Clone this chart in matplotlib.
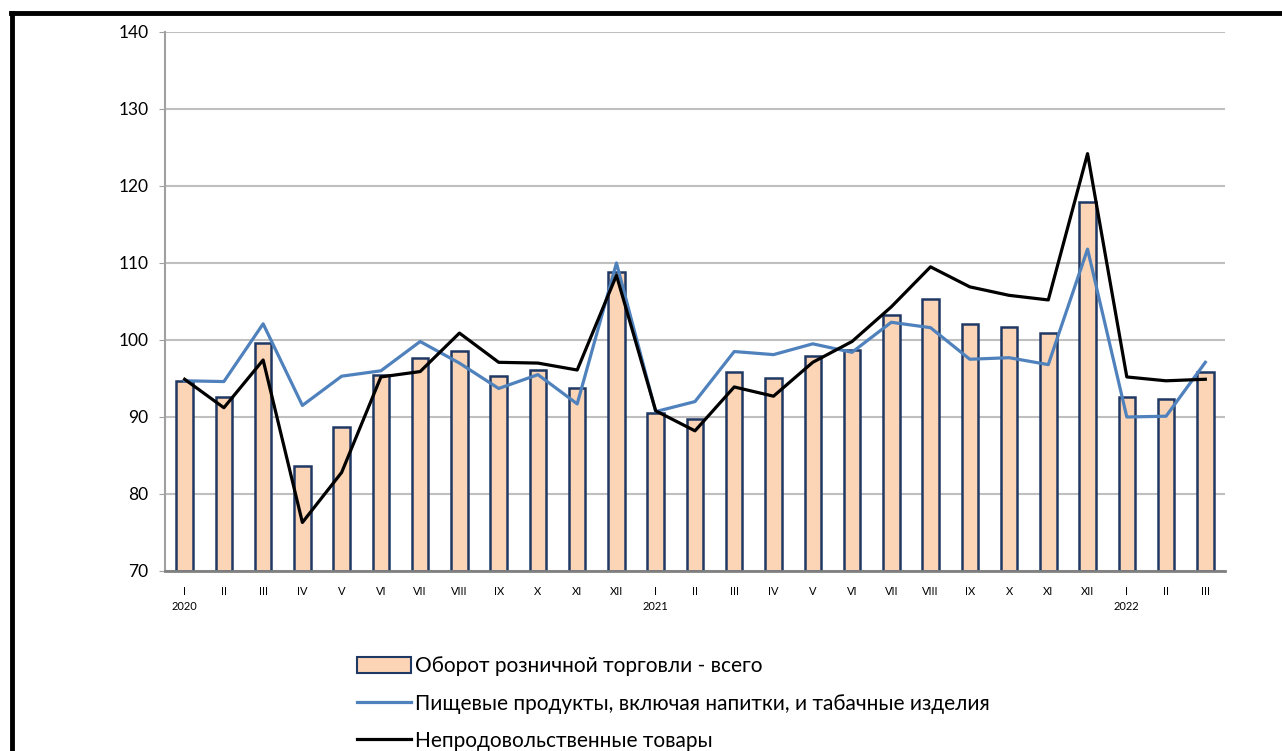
import matplotlib.pyplot as plt
import numpy as np
from matplotlib.lines import Line2D
from matplotlib.patches import Rectangle

plt.rcParams['font.family'] = ['Lato', 'DejaVu Sans']

months = ["I", "II", "III", "IV", "V", "VI", "VII", "VIII", "IX", "X", "XI", "XII",
          "I", "II", "III", "IV", "V", "VI", "VII", "VIII", "IX", "X", "XI", "XII",
          "I", "II", "III"]
years = {0: "2020", 12: "2021", 24: "2022"}

total = [94.7, 92.6, 99.6, 83.6, 88.7, 95.4, 97.6, 98.6, 95.3, 96.1, 93.8, 108.8,
         90.5, 89.8, 95.9, 95.1, 97.9, 98.7, 103.2, 105.3, 102.1, 101.7, 100.9, 117.9,
         92.6, 92.3, 95.8]
food = [94.7, 94.6, 102.1, 91.5, 95.3, 96.0, 99.8, 97.0, 93.7, 95.5, 91.7, 110.0,
        90.7, 92.0, 98.5, 98.1, 99.5, 98.4, 102.3, 101.6, 97.5, 97.7, 96.8, 111.8,
        90.0, 90.1, 97.1]
nonfood = [94.9, 91.2, 97.4, 76.3, 82.8, 95.2, 95.9, 100.9, 97.1, 97.0, 96.1, 108.4,
           90.8, 88.2, 93.9, 92.7, 97.1, 99.8, 104.3, 109.5, 106.9, 105.8, 105.2, 124.2,
           95.2, 94.7, 94.9]

labels = ["Оборот розничной торговли - всего",
          "Пищевые продукты, включая напитки, и табачные изделия",
          "Непродовольственные товары"]

bar_color = "#FBD5B5"
bar_edge = "#1F3864"
blue = "#4F81BD"

fig = plt.figure(figsize=(12.82, 7.51), dpi=100)
ax = fig.add_axes([0.1287, 0.2397, 0.8268, 0.7177])

x = np.arange(len(months))
ax.bar(x, [t - 70 for t in total], bottom=70, width=0.42, color=bar_color,
       edgecolor=bar_edge, linewidth=1.8, zorder=2)
ax.plot(x, food, color=blue, lw=2.3, zorder=3)
ax.plot(x, nonfood, color="black", lw=2.3, zorder=4)

ax.set_xlim(-0.5, len(months) - 0.5)
ax.set_ylim(70, 140)
ax.set_yticks(range(70, 141, 10))
ax.yaxis.grid(True, color="#BFBFBF", lw=1.5, zorder=0)
ax.set_axisbelow(True)
ax.tick_params(axis="y", labelsize=12.5, length=4, color="#A0A0A0", pad=8)
ax.set_xticks(x)
ax.set_xticklabels(months, fontsize=8)
ax.tick_params(axis="x", length=0, pad=11)
for i, yr in years.items():
    ax.text(i, -0.065, yr, transform=ax.get_xaxis_transform(), ha="center",
            va="center", fontsize=8)

for s in ["top", "right"]:
    ax.spines[s].set_visible(False)
ax.spines["left"].set_color("#A0A0A0")
ax.spines["left"].set_linewidth(1.5)
ax.spines["bottom"].set_color("#808080")
ax.spines["bottom"].set_linewidth(2)

handles = [Rectangle((0, 0), 1, 1, facecolor=bar_color, edgecolor=bar_edge, lw=1.5),
           Line2D([], [], color=blue, lw=2.3),
           Line2D([], [], color="black", lw=2.3)]
fig.legend(handles, labels, loc="upper left", bbox_to_anchor=(0.270, 0.14),
           frameon=False, fontsize=15, handlelength=2.6, handleheight=0.8,
           handletextpad=0.2, labelspacing=0.83, borderpad=0)

# outer frame of the original picture (cut off at right and bottom)
fig.add_artist(Line2D([0.0094, 0.0094], [0, 0.983], color="black", lw=3.5,
                      transform=fig.transFigure))
fig.add_artist(Line2D([0.0082, 1.0], [0.983, 0.983], color="black", lw=3.5,
                      transform=fig.transFigure))

fig.savefig("out.png", dpi=100)
